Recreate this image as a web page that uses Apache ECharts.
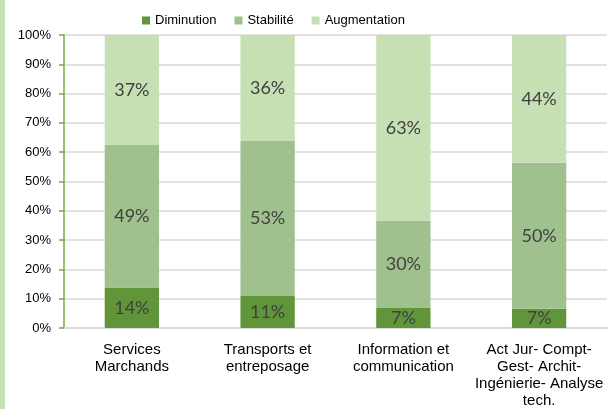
<!DOCTYPE html>
<html>
<head>
<meta charset="utf-8">
<script src="https://cdn.jsdelivr.net/npm/echarts@6/dist/echarts.min.js"></script>
<style>
  html, body { margin: 0; padding: 0; background: #fff; }
  #chart { width: 613px; height: 409px; }
</style>
</head>
<body>
<div id="chart"></div>
<script>
// catégories (axe x)
var categories = [
  'Services\nMarchands',
  'Transports et\nentreposage',
  'Information et\ncommunication',
  'Act Jur- Compt-\nGest- Archit-\nIngénierie- Analyse\ntech.'
]
// parts en %
var diminution = [13.8, 10.9, 6.8, 6.6]
var stabilite = [48.8, 52.9, 29.8, 49.8]
var augmentation = [37.4, 36.2, 63.4, 43.6]
var yTicks = [0, 10, 20, 30, 40, 50, 60, 70, 80, 90, 100]

var chart = echarts.init(document.getElementById('chart'))

function serie (name, data, color) {
  return {
    name: name,
    type: 'bar',
    stack: 'total',
    barWidth: '40%',
    data: data,
    itemStyle: { color: color },
    label: {
      show: true,
      position: 'inside',
      color: '#404040',
      fontFamily: 'Lato',
      fontSize: 18,
      formatter: function (p) { return Math.round(p.value) + '%' }
    }
  }
}

var option = {
  animation: false,
  graphic: [
    // bande verte à gauche
    { type: 'rect', left: 0, top: 0, shape: { width: 5, height: 409 }, style: { fill: '#c6e0b4' } }
  ],
  legend: {
    top: 9,
    left: 137,
    itemWidth: 8,
    itemHeight: 8,
    itemGap: 18,
    icon: 'rect',
    textStyle: { color: '#000', fontFamily: 'Liberation Sans', fontSize: 13 },
    data: ['Diminution', 'Stabilité', 'Augmentation']
  },
  grid: {
    top: 35,
    left: 64,
    right: 6,
    bottom: 81
  },
  xAxis: {
    type: 'category',
    data: categories,
    axisLine: { lineStyle: { color: '#d9d9d9', width: 1.5 } },
    axisTick: { show: false },
    axisLabel: {
      color: '#000',
      fontFamily: 'Liberation Sans',
      fontSize: 15,
      lineHeight: 17,
      margin: 13,
      interval: 0
    }
  },
  yAxis: {
    type: 'value',
    min: yTicks[0],
    max: yTicks[yTicks.length - 1],
    interval: 10,
    axisLine: { show: true, lineStyle: { color: '#70ad47', width: 1.5 } },
    axisTick: { show: true, length: 5, lineStyle: { color: '#70ad47', width: 1.5 } },
    axisLabel: {
      color: '#000',
      fontFamily: 'Liberation Sans',
      fontSize: 13,
      margin: 13,
      formatter: '{value}%'
    },
    splitLine: { lineStyle: { color: '#d9d9d9', width: 1.5 } }
  },
  series: [
    serie('Diminution', diminution, '#61953a'),
    serie('Stabilité', stabilite, '#9fc18e'),
    serie('Augmentation', augmentation, '#c6e0b4')
  ]
}
chart.setOption(option)
</script>
</body>
</html>
